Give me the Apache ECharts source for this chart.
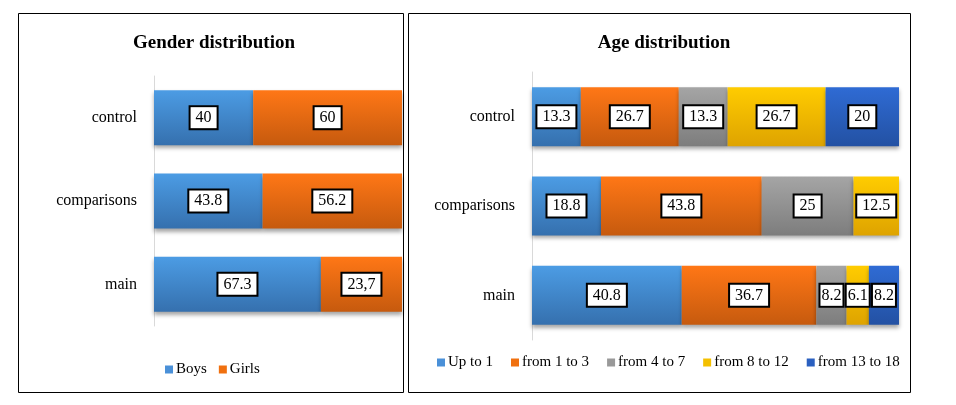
<!DOCTYPE html>
<html>
<head>
<meta charset="utf-8">
<script src="https://cdn.jsdelivr.net/npm/echarts@6/dist/echarts.min.js"></script>
<style>html,body{margin:0;padding:0;background:#fff;}#c{width:956px;height:405px;}</style>
</head>
<body>
<div id="c"></div>
<script>
var groups = ['control', 'comparisons', 'main'];
var genderNames = ['Boys', 'Girls'];
var boys = [40, 43.8, 67.3];
var girls = [60, 56.2, 32.7];
var boysLabels = ['40', '43.8', '67.3'];
var girlsLabels = ['60', '56.2', '23,7'];

var ageNames = ['Up to 1', 'from 1 to 3', 'from 4 to 7', 'from 8 to 12', 'from 13 to 18'];
var upTo1 = [13.3, 18.8, 40.8];
var from1to3 = [26.7, 43.8, 36.7];
var from4to7 = [13.3, 25, 8.2];
var from8to12 = [26.7, 12.5, 6.1];
var from13to18 = [20, 0, 8.2];

var SERIF = '"Liberation Serif", "Times New Roman", serif';

function grad(top, bottom) {
  return new echarts.graphic.LinearGradient(0, 0, 0, 1, [
    {offset: 0, color: top}, {offset: 1, color: bottom}
  ]);
}
var colors = {
  blue: grad('#4c9ce4', '#3570ae'),
  orange: grad('#ff7716', '#c65a0e'),
  gray: grad('#a5a5a5', '#7d7d7d'),
  yellow: grad('#ffcc00', '#dea300'),
  dblue: grad('#2f6bd4', '#2351a3')
};
var legendColors = ['#4a90d8', '#f0700f', '#999999', '#f4c000', '#2b60c0'];

function labelCfg(small) {
  return {
    show: true, position: 'inside', color: '#000',
    fontFamily: SERIF, fontSize: 16,
    backgroundColor: '#fff', borderColor: '#000', borderWidth: 2,
    padding: small ? [3, 1, 2, 1] : [3, 5, 2, 5]
  };
}
function makeData(vals, labels) {
  return vals.map(function (v, i) {
    var txt = labels ? labels[i] : String(v);
    return {
      value: v === 0 ? null : v,
      label: Object.assign(labelCfg(v < 10), {formatter: txt})
    };
  });
}
function barSeries(name, vals, labels, color, axisIdx) {
  return {
    type: 'bar', name: name, stack: 's' + axisIdx,
    xAxisIndex: axisIdx, yAxisIndex: axisIdx,
    barCategoryGap: '34%',
    data: makeData(vals, labels),
    itemStyle: {
      color: color,
      shadowColor: 'rgba(0,0,0,0.35)', shadowBlur: 4, shadowOffsetY: 3
    },
    emphasis: {disabled: true},
    animation: false
  };
}

var chart = echarts.init(document.getElementById('c'));
var option = {
  backgroundColor: '#fff',
  animation: false,
  color: legendColors,
  title: [
    {text: 'Gender distribution', left: 209, top: 29, textAlign: 'center',
     textStyle: {fontFamily: SERIF, fontSize: 19, fontWeight: 'bold', color: '#000'}},
    {text: 'Age distribution', left: 659, top: 29, textAlign: 'center',
     textStyle: {fontFamily: SERIF, fontSize: 19, fontWeight: 'bold', color: '#000'}}
  ],
  legend: [
    {data: genderNames.map(function (n, i) { return {name: n, itemStyle: {color: legendColors[i]}}; }),
     left: 160, top: 357, itemWidth: 8, itemHeight: 8, itemGap: 12, icon: 'rect',
     textStyle: {fontFamily: SERIF, fontSize: 15, color: '#000', padding: [0, 0, 0, -2]}},
    {data: ageNames.map(function (n, i) { return {name: n, itemStyle: {color: legendColors[i]}}; }),
     left: 432, top: 350, itemWidth: 8, itemHeight: 8, itemGap: 18, icon: 'rect',
     textStyle: {fontFamily: SERIF, fontSize: 15, color: '#000', padding: [0, 0, 0, -2]}}
  ],
  grid: [
    {left: 154, width: 248, top: 76, height: 250, containLabel: false},
    {left: 532, width: 367, top: 72, height: 268, containLabel: false}
  ],
  xAxis: [
    {type: 'value', gridIndex: 0, min: 0, max: 100, show: false},
    {type: 'value', gridIndex: 1, min: 0, max: 100, show: false}
  ],
  yAxis: [0, 1].map(function (g) {
    return {
      type: 'category', gridIndex: g, data: groups, inverse: true,
      axisLine: {show: true, lineStyle: {color: '#d9d9d9', width: 1}},
      axisTick: {show: false},
      splitLine: {show: false},
      axisLabel: {fontFamily: SERIF, fontSize: 16, color: '#000', margin: 17}
    };
  }),
  series: [
    barSeries('Boys', boys, boysLabels, colors.blue, 0),
    barSeries('Girls', girls, girlsLabels, colors.orange, 0),
    barSeries('Up to 1', upTo1, null, colors.blue, 1),
    barSeries('from 1 to 3', from1to3, null, colors.orange, 1),
    barSeries('from 4 to 7', from4to7, null, colors.gray, 1),
    barSeries('from 8 to 12', from8to12, null, colors.yellow, 1),
    barSeries('from 13 to 18', from13to18, null, colors.dblue, 1)
  ],
  graphic: [
    {type: 'rect', shape: {x: 18.5, y: 13.5, width: 385, height: 379}, z: 100,
     style: {fill: 'none', stroke: '#000', lineWidth: 1}},
    {type: 'rect', shape: {x: 408.5, y: 13.5, width: 502, height: 379}, z: 100,
     style: {fill: 'none', stroke: '#000', lineWidth: 1}}
  ]
};
chart.setOption(option);
</script>
</body>
</html>
